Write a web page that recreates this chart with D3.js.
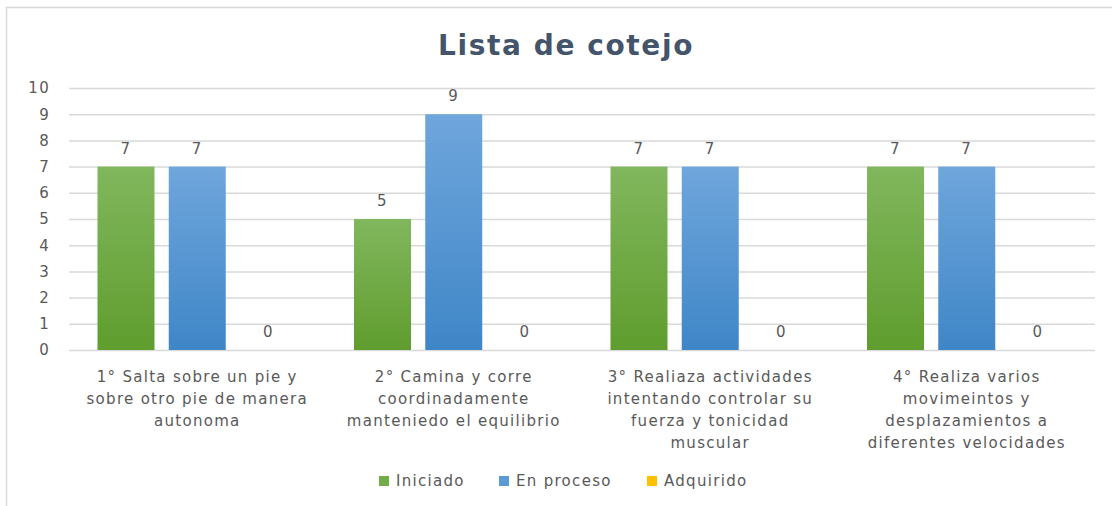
<!DOCTYPE html>
<html>
<head>
<meta charset="utf-8">
<script src="https://cdn.jsdelivr.net/npm/d3@7"></script>
<style>
  body { margin: 0; background: #fff; }
  svg text { font-family: "DejaVu Sans", sans-serif; letter-spacing: 1.3px; }
</style>
</head>
<body>
<svg id="chart" width="1112" height="506"></svg>
<script>
// chart data
const categories = [
  ["1° Salta sobre un pie y", "sobre otro pie de manera", "autonoma"],
  ["2° Camina y corre", "coordinadamente", "manteniedo el equilibrio"],
  ["3° Realiaza actividades", "intentando controlar su", "fuerza y tonicidad", "muscular"],
  ["4° Realiza varios", "movimeintos y", "desplazamientos a", "diferentes velocidades"]
];
const seriesNames = ["Iniciado", "En proceso", "Adquirido"];
const iniciado  = [7, 5, 7, 7];
const enProceso = [7, 9, 7, 7];
const adquirido = [0, 0, 0, 0];
const yTicks = [0, 1, 2, 3, 4, 5, 6, 7, 8, 9, 10];

const values = [iniciado, enProceso, adquirido];
const rows = categories.map(function (c, i) {
  return { idx: i, label: c, vals: seriesNames.map(function (s, j) { return { name: s, v: values[j][i] }; }) };
});

const svg = d3.select("#chart");
const textCol = "#595959";

// outer chart border (top and left visible)
svg.append("line").attr("x1", 6).attr("x2", 1112).attr("y1", 7.5).attr("y2", 7.5)
  .attr("stroke", "#d9d9d9").attr("stroke-width", 1.5);
svg.append("line").attr("x1", 6.5).attr("x2", 6.5).attr("y1", 7).attr("y2", 506)
  .attr("stroke", "#d9d9d9").attr("stroke-width", 1.5);

// scales
const x0 = d3.scaleBand()
  .domain(d3.range(categories.length))
  .range([69, 1095]);
const x1 = d3.scaleBand()
  .domain(seriesNames)
  .range([0, x0.bandwidth()])
  .paddingInner(0.2)
  .paddingOuter(0.4);
const y = d3.scaleLinear().domain([0, 10]).range([350, 88]);

// gridlines
const grid = svg.append("g")
  .attr("transform", "translate(69,0)")
  .call(d3.axisLeft(y).tickValues(yTicks).tickSize(-(1095 - 69)).tickFormat(""));
grid.select(".domain").remove();
grid.selectAll("line").attr("stroke", "#d9d9d9").attr("stroke-width", 1.5);

// y axis labels
const yAxis = svg.append("g")
  .attr("transform", "translate(50,0)")
  .call(d3.axisLeft(y).tickValues(yTicks).tickSize(0).tickPadding(0));
yAxis.select(".domain").remove();
yAxis.selectAll("text")
  .attr("fill", textCol)
  .style("font-size", "15px");

// gradients for bars
const defs = svg.append("defs");
const grads = [
  { id: "gGreen", top: "#81b75d", bot: "#5f9d2e" },
  { id: "gBlue", top: "#6fa6dc", bot: "#3f86c7" },
  { id: "gYellow", top: "#ffc91f", bot: "#f5b800" }
];
grads.forEach(function (g) {
  const lg = defs.append("linearGradient").attr("id", g.id)
    .attr("x1", 0).attr("y1", 0).attr("x2", 0).attr("y2", 1);
  lg.append("stop").attr("offset", "0%").attr("stop-color", g.top);
  lg.append("stop").attr("offset", "100%").attr("stop-color", g.bot);
});
const fillOf = d3.scaleOrdinal().domain(seriesNames).range(["url(#gGreen)", "url(#gBlue)", "url(#gYellow)"]);
const legendCol = d3.scaleOrdinal().domain(seriesNames).range(["#70ad47", "#5b9bd5", "#ffc000"]);

// bars
const groups = svg.selectAll(".cat")
  .data(rows)
  .enter()
  .append("g")
  .attr("class", "cat")
  .attr("transform", function (d) { return "translate(" + x0(d.idx) + ",0)"; });

groups.selectAll("rect")
  .data(function (d) { return d.vals; })
  .enter()
  .append("rect")
  .attr("x", function (d) { return x1(d.name); })
  .attr("y", function (d) { return y(d.v); })
  .attr("width", x1.bandwidth())
  .attr("height", function (d) { return y(0) - y(d.v); })
  .attr("fill", function (d) { return fillOf(d.name); });

// data labels
groups.selectAll(".val")
  .data(function (d) { return d.vals; })
  .enter()
  .append("text")
  .attr("class", "val")
  .attr("x", function (d) { return x1(d.name) + x1.bandwidth() / 2; })
  .attr("y", function (d) { return y(d.v) - 13; })
  .attr("text-anchor", "middle")
  .attr("fill", textCol)
  .style("font-size", "15px")
  .text(function (d) { return d.v; });

// category labels
groups.append("text")
  .attr("text-anchor", "middle")
  .attr("fill", textCol)
  .style("font-size", "15px")
  .selectAll("tspan")
  .data(function (d) { return d.label; })
  .enter()
  .append("tspan")
  .attr("x", x0.bandwidth() / 2)
  .attr("y", function (d, i) { return 382 + i * 22; })
  .text(function (d) { return d; });

// title
svg.append("text")
  .text("Lista de cotejo")
  .attr("x", 566)
  .attr("y", 55)
  .attr("text-anchor", "middle")
  .attr("fill", "#44546a")
  .attr("font-weight", "bold")
  .style("letter-spacing", "1.6px")
  .style("font-size", "28px");

// legend
const legendX = [379, 499, 647];
const leg = svg.selectAll(".leg")
  .data(seriesNames)
  .enter()
  .append("g")
  .attr("class", "leg")
  .attr("transform", function (d, i) { return "translate(" + legendX[i] + ",481)"; });
leg.append("rect")
  .attr("x", 0).attr("y", -5)
  .attr("width", 10).attr("height", 10)
  .attr("fill", function (d) { return legendCol(d); });
leg.append("text")
  .attr("x", 17).attr("y", 0)
  .attr("dominant-baseline", "central")
  .attr("fill", textCol)
  .style("font-size", "15px")
  .text(function (d) { return d; });
</script>
</body>
</html>
